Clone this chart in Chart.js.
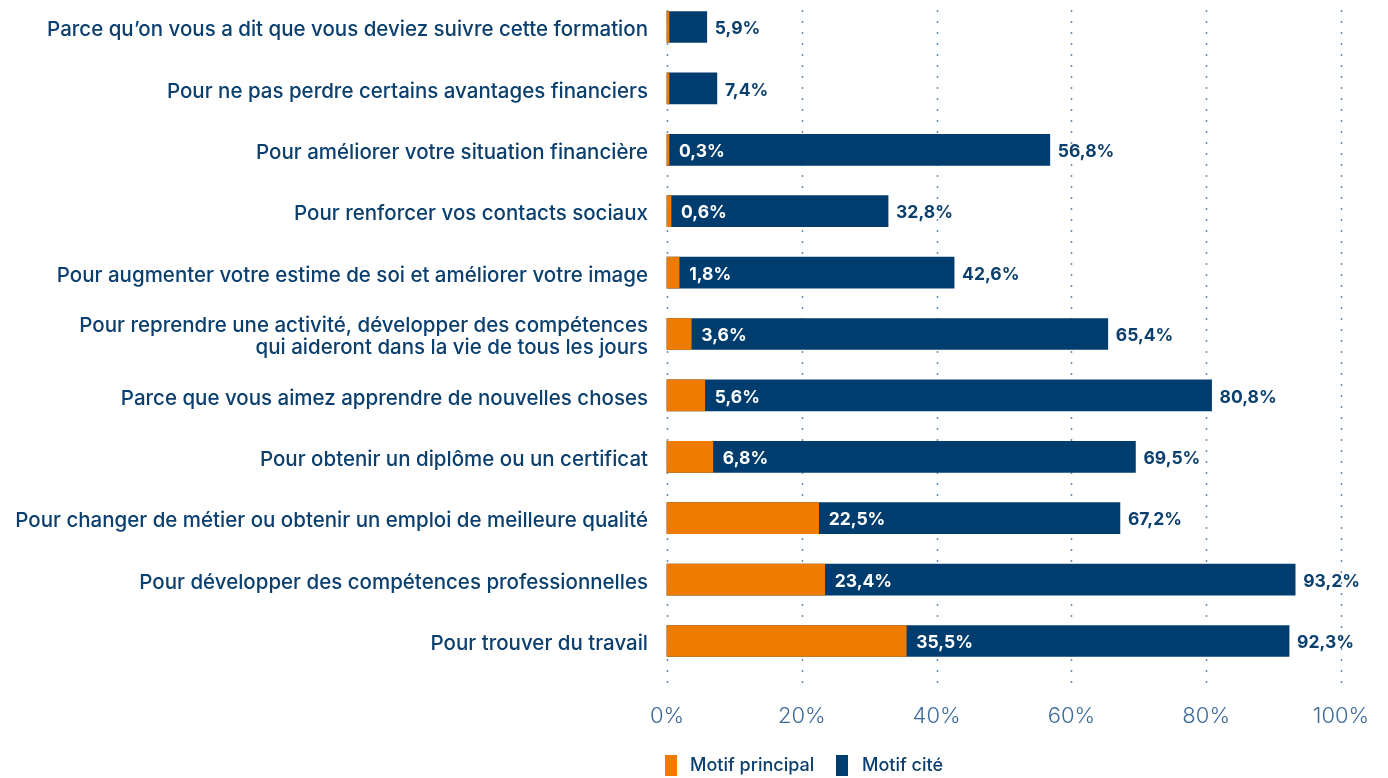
<!DOCTYPE html>
<html lang="fr">
<head>
<meta charset="utf-8">
<script src="https://cdn.jsdelivr.net/npm/chart.js@4"></script>
<style>
  html, body { margin: 0; padding: 0; background: #fff; }
  #wrap { position: relative; width: 1388px; height: 778px; }
  .legend-item { position: absolute; top: 754px; font: 500 18px Inter, sans-serif; color: #0b3f6e; }
  .legend-box { position: absolute; width: 12px; height: 21px; top: 755px; }
</style>
</head>
<body>
<div id="wrap">
  <canvas id="chart" width="1388" height="778"></canvas>
  <div class="legend-box" style="left:665px;background:#ef7b00"></div>
  <div class="legend-item" style="left:690px">Motif principal</div>
  <div class="legend-box" style="left:836px;background:#003d6f"></div>
  <div class="legend-item" style="left:862px">Motif cité</div>
</div>
<script>
// Categories, top to bottom
const categories = [
  "Parce qu’on vous a dit que vous deviez suivre cette formation",
  "Pour ne pas perdre certains avantages financiers",
  "Pour améliorer votre situation financière",
  "Pour renforcer vos contacts sociaux",
  "Pour augmenter votre estime de soi et améliorer votre image",
  ["Pour reprendre une activité, développer des compétences", "qui aideront dans la vie de tous les jours"],
  "Parce que vous aimez apprendre de nouvelles choses",
  "Pour obtenir un diplôme ou un certificat",
  "Pour changer de métier ou obtenir un emploi de meilleure qualité",
  "Pour développer des compétences professionnelles",
  "Pour trouver du travail"
];

// Series values (%)
const motifPrincipal = [0, 0, 0.3, 0.6, 1.8, 3.6, 5.6, 6.8, 22.5, 23.4, 35.5];
const motifCite = [5.9, 7.4, 56.8, 32.8, 42.6, 65.4, 80.8, 69.5, 67.2, 93.2, 92.3];

// Axis ticks
const xTicks = [0, 20, 40, 60, 80, 100];

const NAVY = "#003d6f";
const ORANGE = "#ef7b00";
const TEXT = "#0b3f6e";
const FONT = "Inter";

function fmt(v) {
  return v.toFixed(1).replace(".", ",") + "%";
}

// dotted vertical grid lines, running a bit beyond the chart area
const dottedGrid = {
  id: "dottedGrid",
  beforeDatasetsDraw(chart) {
    const ctx = chart.ctx;
    const x = chart.scales.x;
    ctx.save();
    ctx.strokeStyle = "#6a8db0";
    ctx.lineWidth = 1.5;
    ctx.setLineDash([2, 9]);
    xTicks.forEach((t) => {
      const px = Math.round(x.getPixelForValue(t)) + 0.5;
      ctx.beginPath();
      ctx.moveTo(px, 10);
      ctx.lineTo(px, 686);
      ctx.stroke();
    });
    ctx.restore();
  },
};

// value labels: principal inside the navy bar, cité after its end
const valueLabels = {
  id: "valueLabels",
  afterDatasetsDraw(chart) {
    const ctx = chart.ctx;
    const metaP = chart.getDatasetMeta(0);
    const metaC = chart.getDatasetMeta(1);
    ctx.save();
    ctx.font = "bold 17.5px " + FONT;
    ctx.textBaseline = "middle";
    ctx.textAlign = "left";
    motifPrincipal.forEach((v, i) => {
      if (!v) return;
      const bar = metaP.data[i];
      ctx.fillStyle = "#ffffff";
      ctx.fillText(fmt(v), bar.x + 10, bar.y + 2);
    });
    motifCite.forEach((v, i) => {
      const bar = metaC.data[i];
      ctx.fillStyle = TEXT;
      ctx.fillText(fmt(v), bar.x + 8, bar.y + 2);
    });
    ctx.restore();
  },
};

new Chart(document.getElementById("chart"), {
  type: "bar",
  data: {
    labels: categories,
    datasets: [
      {
        label: "Motif principal",
        data: motifPrincipal,
        backgroundColor: ORANGE,
        barThickness: 31,
        minBarLength: 2,
        grouped: false,
        clip: false,
      },
      {
        label: "Motif cité",
        data: motifCite,
        backgroundColor: NAVY,
        barThickness: 31,
        grouped: false,
        clip: false,
      },
    ],
  },
  options: {
    indexAxis: "y",
    responsive: false,
    animation: false,
    layout: { padding: { top: 27, right: 47, bottom: 47, left: 0 } },
    scales: {
      x: {
        min: 0,
        max: 100,
        afterBuildTicks: (axis) => {
          axis.ticks = xTicks.map((v) => ({ value: v }));
        },
        afterFit: (axis) => {
          axis.height = 90;
          axis.paddingLeft = 0;
          axis.paddingRight = 0;
        },
        grid: { display: false },
        border: { display: false },
        ticks: {
          padding: 54,
          color: "#3d6a99",
          font: { family: FONT, size: 22, weight: "300" },
          callback: (v) => v + "%",
        },
      },
      y: {
        offset: false,
        afterFit: (axis) => {
          axis.width = 667;
          axis.paddingTop = 0;
          axis.paddingBottom = 0;
        },
        grid: { display: false, drawTicks: false },
        border: { display: false },
        ticks: {
          padding: 19,
          labelOffset: 3,
          color: TEXT,
          font: { family: FONT, size: 20.5, weight: "500", lineHeight: 1.07 },
        },
      },
    },
    plugins: {
      legend: { display: false },
      tooltip: { enabled: false },
    },
  },
  plugins: [dottedGrid, valueLabels],
});
</script>
</body>
</html>
